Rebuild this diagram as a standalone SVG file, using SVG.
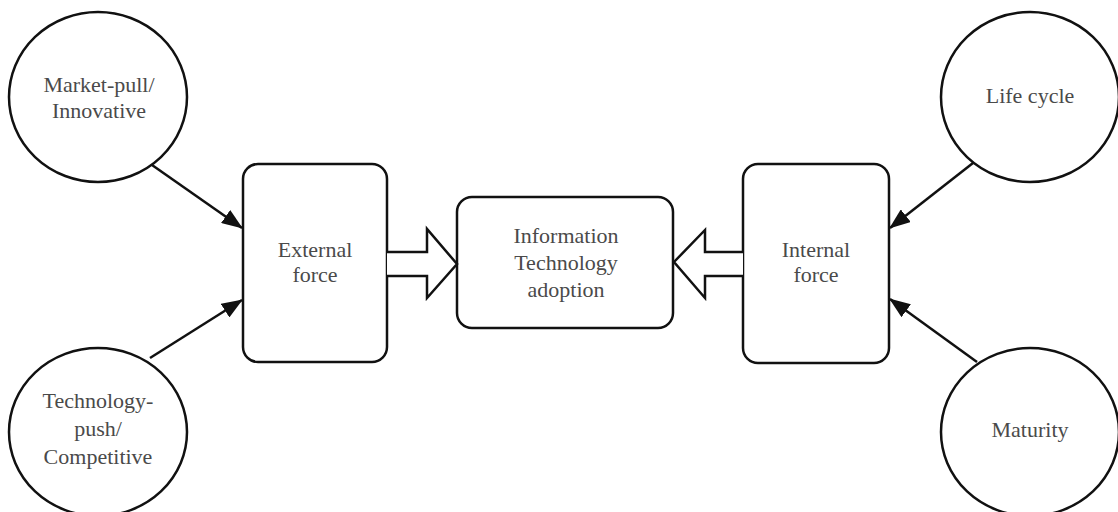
<svg xmlns="http://www.w3.org/2000/svg" width="1118" height="512" viewBox="0 0 1118 512">
  <style>
    .shape { fill: #ffffff; stroke: #111111; stroke-width: 2.5; }
    .label { font-family: "Liberation Serif", "Times New Roman", serif; font-size: 22px; fill: #4a4a4a; text-anchor: middle; }
    .link { fill: none; stroke: #111111; stroke-width: 2.5; }
  </style>
  <defs>
    <marker id="head" markerUnits="userSpaceOnUse" markerWidth="22" markerHeight="16" refX="20" refY="8" orient="auto">
      <path d="M0,0 L21,8 L0,16 Z" fill="#111111"/>
    </marker>
  </defs>

  <!-- factor circles -->
  <g id="market-pull">
    <ellipse class="shape" cx="98" cy="97" rx="89" ry="85"/>
    <text class="label" x="99" y="92">Market-pull/</text>
    <text class="label" x="99" y="118">Innovative</text>
  </g>
  <g id="technology-push">
    <ellipse class="shape" cx="98" cy="432" rx="89" ry="84"/>
    <text class="label" x="98" y="408">Technology-</text>
    <text class="label" x="98" y="436">push/</text>
    <text class="label" x="98" y="464">Competitive</text>
  </g>
  <g id="life-cycle">
    <ellipse class="shape" cx="1030" cy="97" rx="89" ry="85"/>
    <text class="label" x="1030" y="103">Life cycle</text>
  </g>
  <g id="maturity">
    <ellipse class="shape" cx="1030" cy="432" rx="89" ry="84"/>
    <text class="label" x="1030" y="437">Maturity</text>
  </g>

  <!-- force boxes -->
  <g id="external-force">
    <rect class="shape" x="243" y="164" width="144" height="198" rx="15" ry="15"/>
    <text class="label" x="315" y="257">External</text>
    <text class="label" x="315" y="282">force</text>
  </g>
  <g id="internal-force">
    <rect class="shape" x="743" y="164" width="146" height="199" rx="15" ry="15"/>
    <text class="label" x="816" y="257">Internal</text>
    <text class="label" x="816" y="282">force</text>
  </g>

  <!-- central outcome -->
  <g id="it-adoption">
    <rect class="shape" x="457" y="197" width="216" height="131" rx="15" ry="15"/>
    <text class="label" x="566" y="243">Information</text>
    <text class="label" x="566" y="270">Technology</text>
    <text class="label" x="566" y="297">adoption</text>
  </g>

  <!-- connectors -->
  <g id="connectors">
    <line class="link" x1="152" y1="165" x2="242" y2="228" marker-end="url(#head)"/>
    <line class="link" x1="150" y1="358" x2="242" y2="300" marker-end="url(#head)"/>
    <line class="link" x1="973" y1="163" x2="890" y2="228" marker-end="url(#head)"/>
    <line class="link" x1="977" y1="362" x2="890" y2="299" marker-end="url(#head)"/>
    <!-- hollow block arrows into the adoption box -->
    <path class="shape" stroke-linejoin="miter" d="M387,252 L427,252 L427,229 L457,264 L427,298 L427,276 L387,276"/>
    <path class="shape" stroke-linejoin="miter" d="M743,252 L705,252 L705,230 L674,262 L705,298 L705,276 L743,276"/>
  </g>
</svg>
